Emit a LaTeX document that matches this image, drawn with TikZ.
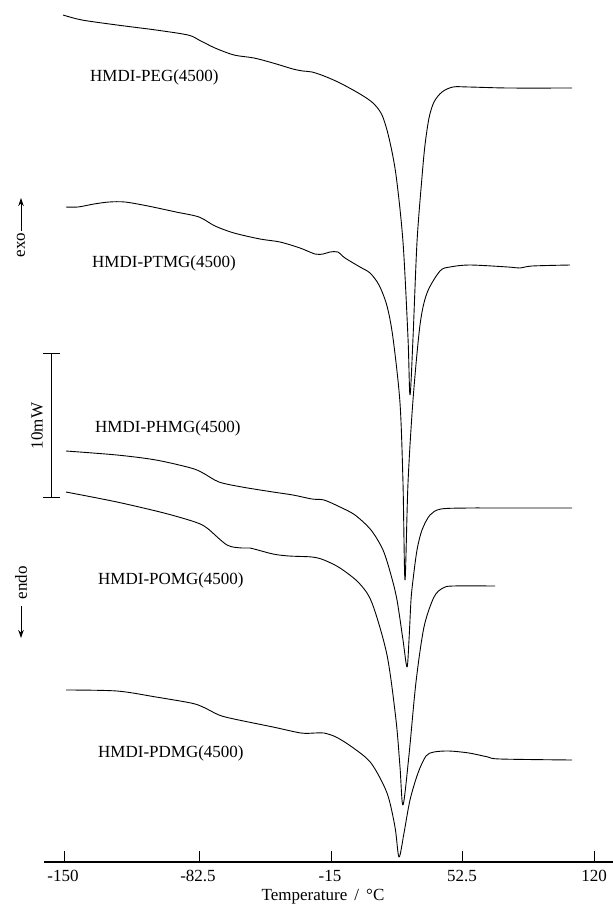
\documentclass[tikz,border=0pt]{standalone}
\usepackage{fontspec}
\setmainfont{Liberation Serif}
\usetikzlibrary{arrows.meta}

\begin{document}
\begin{tikzpicture}[
    x=1pt, y=-1pt,
    >={Stealth[length=8pt,width=5.5pt]},
    trace/.style={line width=0.9pt, line join=round},
    sample/.style={anchor=west, inner sep=0pt, font=\fontsize{17}{20}\selectfont},
    ticklbl/.style={inner sep=0pt, font=\fontsize{17}{20}\selectfont},
    side/.style={rotate=90, inner sep=1.5pt, font=\fontsize{17}{20}\selectfont},
    arrow/.style={->, line width=0.9pt}
]
  \useasboundingbox (0,0) rectangle (613,906);

  % DSC traces
  \draw[trace] plot[smooth, tension=0.5] coordinates {(63,15) (82,20) (117,25) (156,30) (188,35) (199,40) (215,48) (234,55) (254,58) (273,63) (293,69) (303,71) (312,72) (324,76) (340,83) (360,94) (373,103) (382,115) (389,138) (396,175) (403,242) (408,338) (410,395) (413,338) (417,242) (422,177) (425,145) (429,118) (434,102) (442,92) (453,87) (469,87) (508,88) (572,88)};
  \draw[trace] plot[smooth, tension=0.5] coordinates {(66,207) (78,207) (94,204) (109,202) (125,202) (148,206) (176,212) (199,217) (215,226) (234,233) (260,239) (280,242) (300,248) (315,254) (323,254) (330,252) (338,252) (345,258) (360,267) (370,273) (379,285) (387,306) (393,338) (400,403) (403,483) (405,580) (408,483) (413,400) (420,325) (427,293) (440,271) (450,267) (470,265) (508,267) (520,268) (532,266) (570,265)};
  \draw[trace] plot[smooth, tension=0.5] coordinates {(66,451) (117,455) (156,460) (191,468) (203,473) (219,482) (242,487) (273,492) (293,495) (312,499) (324,500) (340,507) (355,515) (371,530) (383,550) (391,575) (397,600) (403,640) (407,667) (409,640) (411,600) (413,580) (417,550) (422,530) (430,515) (441,509) (469,508) (500,508) (572,508)};
  \draw[trace] plot[smooth, tension=0.5] coordinates {(66,492) (117,502) (164,513) (195,522) (207,528) (227,545) (242,548) (250,548) (273,554) (289,556) (312,557) (324,560) (340,568) (359,583) (372,603) (387,655) (396,720) (400,767) (403,805) (409,755) (416,682) (424,627) (434,597) (443,588) (453,586) (495,586)};
  \draw[trace] plot[smooth, tension=0.5] coordinates {(66,690) (117,691) (156,697) (191,703) (203,707) (219,715) (234,719) (273,727) (301,733) (315,733) (324,733) (336,737) (352,747) (371,763) (387,793) (395,827) (399,857) (404,833) (410,800) (418,773) (426,756) (434,752) (449,751) (469,753) (488,757) (500,759) (572,760)};

  % Sample names
  \node[sample] (peg)  at (90,77)  {HMDI-PEG(4500)};
  \node[sample] (ptmg) at (92,263) {HMDI-PTMG(4500)};
  \node[sample] (phmg) at (95,428) {HMDI-PHMG(4500)};
  \node[sample] (pomg) at (98,580) {HMDI-POMG(4500)};
  \node[sample] (pdmg) at (98,753) {HMDI-PDMG(4500)};

  % Temperature axis
  \draw[line width=1.6pt] (44,862) -- (613,862);
  \draw[line width=1pt] (64,851) -- (64,862);
  \draw[line width=1pt] (199,851) -- (199,862);
  \draw[line width=1pt] (331,851) -- (331,862);
  \draw[line width=1pt] (462,851) -- (462,862);
  \draw[line width=1pt] (594,851) -- (594,862);
  \node[ticklbl] (l150) at (63,876)  {-150};
  \node[ticklbl] (l825) at (198,876) {-82.5};
  \node[ticklbl] (l15)  at (330,876) {-15};
  \node[ticklbl] (l525) at (462,876) {52.5};
  \node[ticklbl] (l120) at (594,876) {120};
  \node[ticklbl] (taxis) at (323,897) {Temperature \,/\, °C};

  % Heat flow direction and scale bar
  \node[side] (exo)  at (21,245) {exo};
  \node[side] (endo) at (21,583) {endo};
  \coordinate (exotip)  at (21,198);
  \coordinate (endotip) at (21,638);
  \draw[arrow] (exo) -- (exotip);
  \draw[arrow, shorten <=5pt] (endo) -- (endotip);

  \coordinate (bartop) at (51,353);
  \coordinate (barbot) at (51,497);
  \draw[line width=1pt] (bartop) -- (barbot);
  \draw[line width=1pt] (43,353) -- (60,353);
  \draw[line width=1pt] (43,497) -- (60,497);
  \node[side] (scale) at (37,426) {10mW};
\end{tikzpicture}
\end{document}
